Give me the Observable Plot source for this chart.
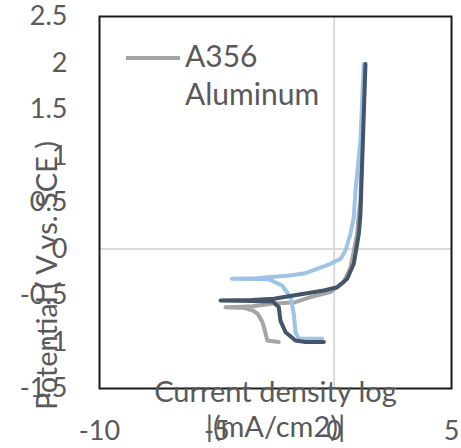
<!DOCTYPE html>
<html><head><meta charset="utf-8">
<script src="https://cdn.jsdelivr.net/npm/d3@7"></script>
<script src="https://cdn.jsdelivr.net/npm/@observablehq/plot@0.6"></script>
<style>
body{margin:0;background:#fff;}
#chart{position:relative;width:461px;height:448px;}
</style></head><body><div id="chart"></div>
<script>
const xTicks = [-10, -5, 0, 5];
const yTicks = [-1.5, -1, -0.5, 0, 0.5, 1, 1.5, 2, 2.5];
const xTitle = "Current density log\n|(mA/cm2)|";
const yTitle = "Potential ( V vs. SCE )";
const legendLines = ["A356", "Aluminum"];

// Series 1: A356 Aluminum (gray)
const grayX = [-2.36, -2.85, -2.95, -3.05, -3.25, -3.43, -3.8, -4.63, -3.9, -3.49, -2.64, -1.65, -1.01, -0.16, 0.41, 0.70, 0.84, 0.98, 1.05, 1.12, 1.30];
const grayY = [-1.00, -0.985, -0.88, -0.79, -0.70, -0.665, -0.635, -0.627, -0.62, -0.615, -0.589, -0.572, -0.518, -0.464, -0.357, -0.196, -0.016, 0.163, 0.378, 0.52, 1.95];
// Series 2 (light blue)
const blueX = [-0.515, -1.51, -1.65, -1.72, -1.86, -2.22, -2.79, -3.3, -4.35, -3.3, -3.07, -1.93, -1.22, -0.157, 0.27, 0.48, 0.695, 0.836, 0.91, 1.12, 1.26];
const blueY = [-0.966, -0.966, -0.895, -0.697, -0.518, -0.392, -0.325, -0.322, -0.320, -0.315, -0.31, -0.285, -0.26, -0.159, -0.105, -0.016, 0.163, 0.342, 0.629, 1.167, 1.99];
// Series 3 (dark navy)
const darkX = [-0.44, -1.22, -1.65, -2.07, -2.29, -2.36, -2.6, -3.5, -4.84, -3.5, -2.57, -1.29, -0.44, 0.13, 0.555, 0.836, 0.98, 1.05, 1.12, 1.334];
const darkY = [-1.0, -1.0, -0.984, -0.895, -0.77, -0.626, -0.565, -0.56, -0.554, -0.548, -0.535, -0.482, -0.446, -0.411, -0.32, -0.159, 0.056, 0.163, 0.378, 1.99];

const seriesNames = ["A356 Aluminum", "Series 2", "Series 3"];
const seriesColors = ["#A5A5A5", "#9DC3E6", "#44546A"];
const seriesXs = [grayX, blueX, darkX];
const seriesYs = [grayY, blueY, darkY];

const rows = [];
seriesNames.forEach((s, i) => {
  seriesXs[i].forEach((x, j) => rows.push({s, x, y: seriesYs[i][j]}));
});

const textColor = "#595959";
const font = "Lato, 'Open Sans', sans-serif";

const plot = Plot.plot({
  width: 461, height: 448,
  marginLeft: 99, marginRight: 10, marginTop: 16, marginBottom: 60,
  x: {domain: [-10, 5]},
  y: {domain: [-1.5, 2.5]},
  color: {domain: seriesNames, range: seriesColors},
  style: {fontFamily: font, fontSize: "27px", color: textColor, background: "#fff", overflow: "visible"},
  marks: [
    Plot.ruleX([0], {stroke: "#D9D9D9", strokeWidth: 2}),
    Plot.ruleY([0], {stroke: "#D9D9D9", strokeWidth: 2}),
    Plot.frame({stroke: "#1a1a1a", strokeWidth: 2}),
    Plot.line(rows, {x: "x", y: "y", z: "s", stroke: "s", strokeWidth: 4, strokeLinejoin: "round"}),
    Plot.axisX(xTicks, {tickSize: 0, tickPadding: 32, tickFormat: d => String(d), fontSize: 27, fill: textColor, label: null}),
    Plot.axisY(yTicks, {tickSize: 0, tickPadding: 32, tickFormat: d => String(d), fontSize: 27, fill: textColor, label: null}),
    Plot.text([yTitle], {frameAnchor: "left", textAnchor: "middle", rotate: -90, dx: -52, dy: 73, fontSize: 29, fill: textColor}),
    Plot.text([xTitle], {frameAnchor: "bottom", textAnchor: "middle", lineAnchor: "top", dy: -11, lineHeight: 1.2, fontSize: 29, fill: textColor})
  ]
});
document.getElementById("chart").appendChild(plot);

// Legend (single entry, inside plot area, top-left)
const svg = d3.select(plot);
const lg = svg.append("g").attr("font-family", font).attr("fill", textColor).attr("text-anchor", "start");
lg.append("line").attr("x1", 126).attr("x2", 180).attr("y1", 58).attr("y2", 58)
  .attr("stroke", seriesColors[0]).attr("stroke-width", 4);
legendLines.forEach((t, i) => {
  lg.append("text").attr("x", 185).attr("y", 67 + i * 38).attr("font-size", 30).text(t);
});
</script></body></html>
